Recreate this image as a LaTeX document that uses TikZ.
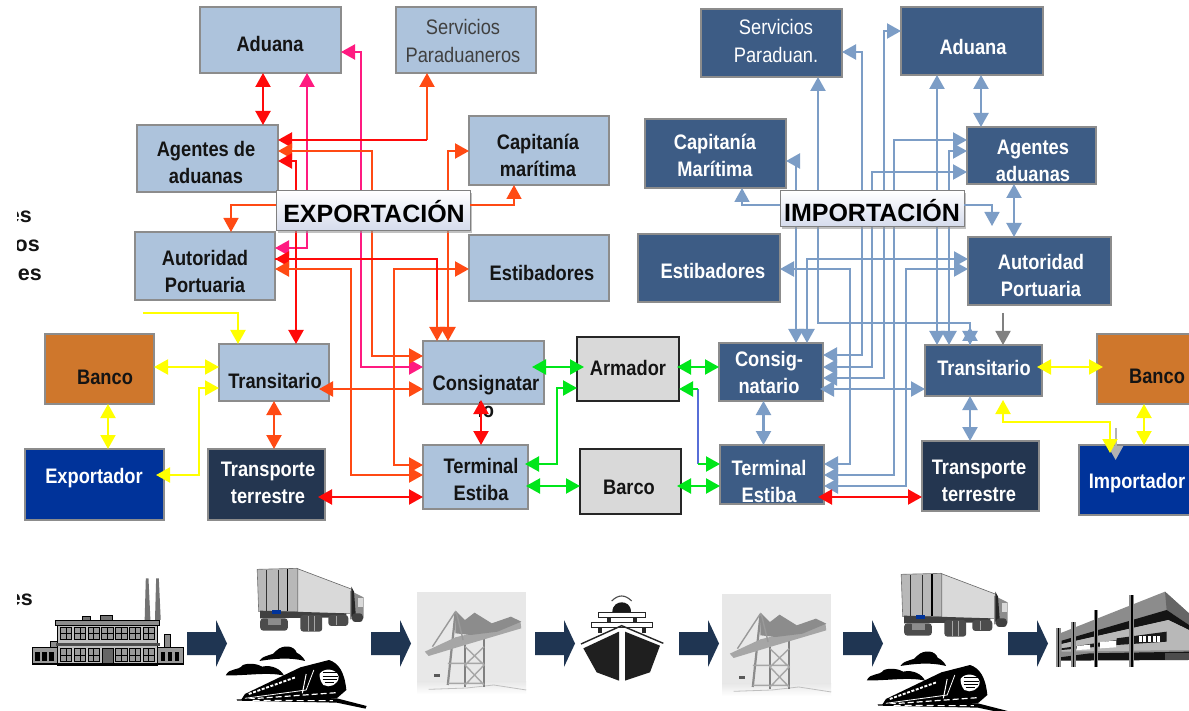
\documentclass[tikz,border=0pt]{standalone}
\usepackage{fontspec}
\setmainfont{Liberation Sans}[FakeStretch=0.87]
\newfontfamily\plainsans{Liberation Sans}
\usetikzlibrary{arrows.meta,fit,shadows,calc}
\definecolor{lblue}{HTML}{ADC3DC}
\definecolor{dblue}{HTML}{3D5C85}
\definecolor{bank}{HTML}{CF772C}
\definecolor{royal}{HTML}{00339A}
\definecolor{navy}{HTML}{243650}
\definecolor{arrowblue}{HTML}{7C9DC6}
\definecolor{redb}{HTML}{FF0A0A}
\definecolor{orng}{HTML}{FF4A14}
\definecolor{pink}{HTML}{FF1A80}
\definecolor{greenb}{HTML}{00E61A}
\definecolor{yell}{HTML}{FFFF00}
\definecolor{ink}{HTML}{141414}
\definecolor{blockb}{HTML}{1F3552}
\definecolor{lav}{HTML}{D5DBEC}
\newcommand\mybox[6]{\node[#1,fit={(#3,#4) (#5,#6)}] (#2) {};}
\tikzset{
  basebox/.style={rectangle,inner sep=0pt,outer sep=0pt,line width=1.1pt,draw=black!45},
  lbox/.style={basebox,fill=lblue},
  dbox/.style={basebox,fill=dblue},
  bankbox/.style={basebox,fill=bank},
  royalbox/.style={basebox,fill=royal},
  navybox/.style={basebox,fill=navy},
  greybox/.style={basebox,fill=black!15,draw=black!85},
  tb/.style={align=center,inner sep=0pt,text=ink,font=\bfseries\fontsize{21}{27}\selectfont},
  tw/.style={tb,text=white},
  tr/.style={align=center,inner sep=0pt,text=black!75,font=\fontsize{21}{28}\selectfont},
  trw/.style={tr,text=white},
  banner/.style={rectangle,inner sep=0pt,outer sep=0pt,line width=1pt,draw=black!50,top color=white,bottom color=lav,
    drop shadow={shadow xshift=1.5pt,shadow yshift=-2.5pt,fill=black!40,opacity=.6}},
  bannertext/.style={inner sep=0pt,text=black,font=\plainsans\bfseries\fontsize{25}{28}\selectfont},
  frag/.style={inner sep=0pt,text=ink,anchor=east,font=\plainsans\bfseries\fontsize{21.5}{24}\selectfont},
  rd/.style={draw=redb,line width=2.1pt},
  og/.style={draw=orng,line width=2.1pt},
  pk/.style={draw=pink,line width=2.1pt},
  gn/.style={draw=greenb,line width=2.1pt},
  yl/.style={draw=yell,line width=2pt},
  bl/.style={draw=arrowblue,line width=2.2pt},
  gy/.style={draw=black!50,line width=1.8pt},
  gyl/.style={draw=black!30,line width=1.8pt},
  blockarrow/.style={fill=blockb,draw=none},
  >={Triangle[length=14pt,width=15pt]}
}
\newcommand\blockarr[1]{\fill[blockarrow,shift={(#1,0)}] (0,632)--(29,632)--(29,620)--(40,643.5)--(29,667)--(29,655)--(0,655)--cycle;}
\newcommand\truckicon[2]{\begin{scope}[shift={(#1,#2)},x=0.3827pt,y=-0.3333pt]
  \fill[black!15,draw=black!60,line width=.6pt] (775,55)--(920,118)--(920,190)--(775,190)--cycle;
  \fill[black!28,draw=black!55,line width=.6pt] (672,58)--(778,55)--(778,185)--(676,185)--cycle;
  \draw[black!80,line width=1pt] (697,60)--(697,182) (728,60)--(728,182);
  \draw[black,line width=1.4pt] (752,58)--(752,182);
  \fill[black!75] (680,182)--(905,190)--(905,202)--(680,205)--cycle;
  \fill[black!45] (915,122)--(950,142)--(950,205)--(915,208)--cycle;
  \fill[black!85] (918,110)--(925,125)--(930,200)--(918,200)--cycle;
  \fill[black!15] (935,145) rectangle (948,170);
  \fill[royal] (712,180) rectangle (735,192);
  \fill[black!70,rounded corners=3pt] (680,205) rectangle (752,242);
  \fill[black!45] (700,208) rectangle (735,226);
  \fill[black!70,rounded corners=3pt] (785,195) rectangle (842,245);
  \fill[black!70,rounded corners=3pt] (858,195) rectangle (910,228);
  \fill[black!75,rounded corners=3pt] (920,190) rectangle (948,216);
  \draw[black!35,line width=1pt] (805,197)--(805,243) (822,197)--(822,243) (880,197)--(880,226);
\end{scope}}
\newcommand\trainicon[2]{\begin{scope}[shift={(#1,#2)},x=0.3827pt,y=-0.3333pt]
  \fill[black] (678,333) .. controls (690,310) and (715,320) .. (722,302) .. controls (740,282) and (770,287) .. (775,308) .. controls (785,313) and (795,325) .. (797,333) .. controls (760,322) and (720,325) .. cycle;
  \fill[black] (590,376) .. controls (600,352) and (620,365) .. (635,345) .. controls (650,338) and (675,342) .. (685,350) .. controls (710,343) and (735,358) .. (742,377) .. controls (700,365) and (640,378) .. cycle;
  \fill[black] (640,432) -- (785,352) -- (860,330) .. controls (885,340) and (900,365) .. (905,420) -- (880,445) -- (800,452) -- (630,450) -- cycle;
  \fill[white] (835,372) .. controls (845,352) and (880,355) .. (885,380) .. controls (885,405) and (860,415) .. (845,405) .. controls (838,395) and (835,385) .. cycle;
  \draw[black,line width=.9pt] (845,368)--(880,368) (843,378)--(883,378) (843,388)--(880,388) (848,398)--(872,398);
  \draw[white,line width=1.9pt,dash pattern=on 3pt off 1.6pt] (650,432)--(772,382);
  \draw[white,line width=.8pt] (640,445)--(800,420)--(820,360);
  \draw[white,line width=1pt] (800,372)--(790,430);
  \draw[white,line width=1.2pt,dash pattern=on 6pt off 3pt] (650,447)--(880,428);
  \fill[black] (618,448) -- (880,445) -- (958,468) -- (955,476) -- (880,458) -- (620,452) -- cycle;
  \draw[white,line width=1pt,dash pattern=on 7pt off 4pt] (660,451)--(870,452);
\end{scope}}
\newcommand\craneicon[2]{\begin{scope}[shift={(#1,#2)},x=0.3827pt,y=-0.3333pt]
  \fill[black!9] (1090,125) rectangle (1375,395);
  \fill[top color=black!9,bottom color=white,draw=none] (1090,395) rectangle (1375,432);
  \draw[black!25,line width=.8pt] (1120,418)--(1220,414)--(1290,405)--(1375,420);
  \draw[black!50,line width=2.6pt] (1215,270)--(1215,412) (1265,265)--(1265,410);
  \draw[black!45,line width=2.2pt] (1190,190)--(1170,405);
  \draw[black!35,line width=1.4pt] (1170,340)--(1265,340) (1215,290)--(1265,345)--(1215,405) (1265,290)--(1215,345)--(1265,405) (1170,400)--(1265,400);
  \fill[black!35] (1110,305) -- (1190,262) -- (1360,215) -- (1362,235) -- (1215,285) -- (1120,318) -- cycle;
  \fill[black!45] (1190,182) -- (1215,210) -- (1240,188) -- (1285,220) -- (1335,200) -- (1362,215) -- (1300,245) -- (1230,255) -- (1190,250) -- cycle;
  \draw[black!40,line width=1.4pt] (1190,185)--(1130,290) (1192,185)--(1210,270);
  \fill[black!65] (1135,372) rectangle (1150,380);
\end{scope}}
\begin{document}
\begin{tikzpicture}[x=1pt,y=-1pt]
\clip (0,0) rectangle (1189,711);
\fill[white] (0,0) rectangle (1189,711);

% clipped side texts
\node[frag] (fa) at (32,217) {es};
\node[frag] (fb) at (40,246) {os};
\node[frag] (fc) at (42,275) {es};
\node[frag] (fd) at (33,600) {es};
\fill[white] (0,195) rectangle (17,290);
\fill[white] (0,585) rectangle (17,615);

% export boxes
\mybox{lbox}{adL}{200}{7}{341}{73}
\mybox{lbox}{svL}{396}{7}{536}{73}
\mybox{lbox}{agL}{137}{125}{278}{192}
\mybox{lbox}{caL}{469}{116}{609}{185}
\mybox{lbox}{auL}{135}{232}{275}{300}
\mybox{lbox}{esL}{469}{235}{609}{301}
\mybox{bankbox}{baL}{45}{334}{154}{404}
\mybox{lbox}{trL}{219}{344}{329}{401}
\mybox{lbox}{coL}{423}{341}{544}{404}
\mybox{royalbox}{exL}{25}{449}{164}{520}
\mybox{navybox}{ttL}{208}{449}{325}{520}
\mybox{lbox}{teL}{423}{445}{528}{509}
\mybox{greybox}{arM}{577}{337}{679}{401}
\mybox{greybox}{baM}{580}{449}{681}{514}
% import boxes
\mybox{dbox}{svR}{701}{9}{842}{77}
\mybox{dbox}{adR}{901}{7}{1043}{75}
\mybox{dbox}{caR}{645}{119}{786}{188}
\mybox{dbox}{agR}{967}{127}{1096}{184}
\mybox{dbox}{esR}{638}{234}{780}{302}
\mybox{dbox}{auR}{968}{237}{1111}{305}
\mybox{dbox}{coR}{719}{343}{823}{401}
\mybox{dbox}{teR}{720}{445}{824}{504}
\mybox{dbox}{trR}{925}{345}{1042}{396}
\mybox{navybox}{ttR}{922}{441}{1039}{511}
\mybox{bankbox}{baR}{1097}{334}{1195}{404}
\mybox{royalbox}{imR}{1079}{445}{1195}{515}

% texts
\node[tb] (tadL) at (270,44) {Aduana};
\node[tr] (tsvL) at (463,41) {Servicios\\Paraduaneros};
\node[tb] (tagL) at (206,162) {Agentes de\\aduanas};
\node[tb] (tcaL) at (538,155) {Capitanía\\marítima};
\node[tb] (tauL) at (205,271) {Autoridad\\Portuaria};
\node[tb] (tesL) at (542,273) {Estibadores};
\node[tb] (tbaL) at (105,377) {Banco};
\node[tb] (ttrL) at (275,381) {Transitario};
\node[tb] (tcoL) at (486,396) {Consignatar\\io};
\node[tw] (texL) at (94,478) {Exportador};
\node[tw] (tttL) at (268,483) {Transporte\\terrestre};
\node[tb] (tteL) at (481,479) {Terminal\\Estiba};
\node[tb] (tarM) at (628,368) {Armador};
\node[tb] (tbaM) at (629,487) {Barco};
\node[trw] (tsvR) at (776,41) {Servicios\\Paraduan.};
\node[tw] (tadR) at (973,47) {Aduana};
\node[tw] (tcaR) at (715,155) {Capitanía\\Marítima};
\node[tw] (tagR) at (1033,161) {Agentes\\aduanas};
\node[tw] (tesR) at (713,271) {Estibadores};
\node[tw] (tauR) at (1041,275) {Autoridad\\Portuaria};
\node[tw] (tcoR) at (769,372) {Consig-\\natario};
\node[tw] (tteR) at (769,481) {Terminal\\Estiba};
\node[tw] (ttrR) at (984,368) {Transitario};
\node[tb] (tbaR) at (1157,376) {Banco};
\node[tw] (tttR) at (979,481) {Transporte\\terrestre};
\node[tw] (timR) at (1137,483) {Importador};

% yellow free-ended lines
\coordinate (ystart) at (143,313);
\draw[yl,->] (ystart) -| (trL.north -| 238,0);
\draw[yl,<->] (baL.east |- 0,367) -- (trL.west |- 0,367);
\draw[yl,<->] (baL.south -| 108,0) -- (exL.north -| 108,0);
\draw[yl,<->] (exL.east |- 0,475) ++(-8,0) -| (199,388) -- (trL.west |- 0,388);
\coordinate (gtop) at (1115.6,428);
\draw[gyl,->] (gtop) -- (1115.6,460);
\draw[yl,<->] (1003,400) -- (1003,422) -- (1110,422) -- (1110,453);
\draw[yl,<->] (baR.south -| 1144,0) -- (imR.north -| 1144,0);

% left red / orange / pink network
\draw[rd,<->] (adL.south -| 263,0) -- (agL.north -| 263,0);
\draw[pk,<->] (auL.east |- 0,248) -| (adL.south -| 307,0);
\draw[pk,<->] (adL.east |- 0,52) -| (361,367) -- (coL.west |- 0,367);
\draw[og,->] (427,140) -- (svL.south -| 427,0);
\draw[rd,<-] (agL.east |- 0,140) -- (427,140);
\draw[og,<->] (agL.east |- 0,151) -| (372,356) -- (coL.west |- 0,356);
\draw[rd,<->] (agL.east |- 0,161) -| (trL.north -| 296,0);
\draw[og,<->] (caL.west |- 0,151) -| (coL.north -| 448,0);
\draw[og,<->] (esL.west |- 0,269) -| (394,465) -- (teL.west |- 0,465);
\draw[rd] (auL.east |- 0,259) -| (437,320);
\draw[rd,<-] (auL.east |- 0,259) -- (300,259);
\draw[og,->] (437,300) -- (coL.north -| 437,0);
\draw[og,<->] (auL.east |- 0,269) -| (351,475) -- (teL.west |- 0,475);
\draw[og,<->] (trL.east |- 0,389) ++(-10,0) -- (coL.west |- 0,389);
\draw[og,<->] (trL.south -| 274,0) -- (ttL.north -| 274,0);
\draw[rd,<->] (ttL.east |- 0,497) ++(-7,0) -- (teL.west |- 0,497);
\draw[rd,<->] (coL.south -| 481,0) ++(0,-4) -- (teL.north -| 481,0);

% green
\draw[gn,<->] (coL.east |- 0,367) ++(-12,0) -- ($(arM.west |- 0,367)+(7,0)$);
\draw[gn,<->] (teL.east |- 0,464) ++(-3,0) -| (557,388) -- (arM.west |- 0,388);
\draw[gn,<->] (teL.east |- 0,486) ++(-2,0) -- (baM.west |- 0,486);
\draw[gn,<->] (arM.east |- 0,367) ++(-2,0) -- (coR.west |- 0,367);
\draw[gn,<->] (baM.east |- 0,486) ++(-4,0) -- (teR.west |- 0,486);
\draw[draw=arrowblue!70!blue,line width=1.3pt] (698,389) -- (698,464);
\draw[gn,->] (698,389) -- (arM.east |- 0,389);
\draw[gn,->] (698,464) -- (teR.west |- 0,464);

% blue network
\draw[bl,<->] (coR.south -| 763.5,0) -- (teR.north -| 763.5,0);
\draw[bl,<->] (coR.east |- 0,389) ++(-3,0) -- (trR.west |- 0,389);
\draw[bl,<->] (trR.south -| 970,0) -- (ttR.north -| 970,0);
\draw[bl,<->] (svR.south -| 818,0) -- (818,323) -- (970,323) -- (trR.north -| 970,0);
\draw[bl,->] (970,345) -- (970,327);
\draw[bl,<->] (svR.east |- 0,52) -| (862,355) -- (coR.east |- 0,355);
\draw[bl,<->] (adR.west |- 0,31) -| (884,378) -- (coR.east |- 0,378);
\draw[bl,<->] (adR.south -| 937,0) -- (trR.north -| 937,0);
\draw[bl,<->] (adR.south -| 981,0) -- (agR.north -| 981,0);
\draw[bl,<->] (agR.west |- 0,140) -| (894,475) -- (teR.east |- 0,475);
\draw[bl,<->] (agR.west |- 0,151) -| (trR.north -| 949,0);
\draw[bl,<->] (agR.west |- 0,172) -| (872,367) -- (coR.east |- 0,367);
\draw[bl,<->] (agR.south -| 1014,0) -- (auR.north -| 1014,0);
\draw[bl,<->] (auR.west |- 0,259) -| (coR.north -| 807,0);
\draw[bl,<->] (auR.west |- 0,269) -| (906,486) -- (teR.east |- 0,486);
\draw[bl,<->] (esR.east |- 0,269) -| (850,464) -- (teR.east |- 0,464);
\draw[bl,<->] (caR.east |- 0,161) -| (coR.north -| 796,0);
\draw[rd,<->] (teR.east |- 0,497) ++(-6,0) -- (ttR.west |- 0,497);
\coordinate (gtwo) at (1003,313);
\draw[gy,->] (gtwo) -- (trR.north -| 1003,0);
\draw[yl,<->] (trR.east |- 0,367) ++(-5,0) -- ($(baR.west |- 0,367)+(6,0)$);

% banner arrows and banners
\mybox{banner}{exB}{276}{191}{470}{231}
\node[bannertext] (texB) at (374,212) {EXPORTACIÓN};
\mybox{banner}{imB}{780}{191}{964}{227}
\node[bannertext] (timB) at (872,211) {IMPORTACIÓN};
\draw[og,line width=1.6pt,->] (exB.west |- 0,205) -| (auL.north -| 231,0);
\draw[og,line width=1.6pt,->] (exB.east |- 0,205) -| (caL.south -| 514,0);
\draw[bl,line width=1.6pt,->] (imB.west |- 0,205) -| (caR.south -| 742,0);
\draw[bl,line width=1.6pt,->] (imB.east |- 0,205) -| (992,226);

% bottom strip
\blockarr{187}\blockarr{371}\blockarr{535}\blockarr{679}\blockarr{843}\blockarr{1008}

% factory
\begin{scope}[shift={(0,550)},x=0.3827pt,y=-0.3333pt]
  \fill[black!55] (378,210) -- (381,85) -- (388,85) -- (393,210) -- cycle;
  \fill[black!55] (405,210) -- (408,85) -- (415,85) -- (420,210) -- cycle;
  \fill[black!55,draw=black] (215,198) rectangle (235,212);
  \fill[black!55,draw=black] (262,195) rectangle (292,212);
  \fill[black!25,draw=black,line width=.9pt] (150,225) rectangle (412,345);
  \fill[black!45,draw=black,line width=.9pt] (146,212) rectangle (417,225);
  \fill[black!40,draw=black,line width=.9pt] (85,292) rectangle (150,342);
  \fill[black!40,draw=black,line width=.9pt] (412,292) rectangle (480,342);
  \fill[black!45,draw=black] (130,275) rectangle (150,292);
  \fill[black!45,draw=black] (430,252) rectangle (446,292);
  \foreach \i in {0,...,6} {
    \draw[black,fill=black!40,line width=1pt] ({158+\i*36},233) rectangle ({188+\i*36},270);
    \draw[black,line width=.8pt] ({173+\i*36},233)--({173+\i*36},270) ({158+\i*36},251)--({188+\i*36},251);
  }
  \foreach \i in {0,1,2,4,5,6} {
    \draw[black,fill=black!40,line width=1pt] ({158+\i*36},296) rectangle ({188+\i*36},334);
    \draw[black,line width=.8pt] ({173+\i*36},296)--({173+\i*36},334) ({158+\i*36},315)--({188+\i*36},315);
  }
  \fill[black!60,draw=black] (268,295) rectangle (295,345);
  \fill[black!70] (146,280) rectangle (417,288);
  \foreach \i in {0,1,2} {
    \fill[black] ({92+\i*18},305) rectangle ({104+\i*18},332);
    \fill[black] ({420+\i*18},305) rectangle ({432+\i*18},332);
  }
  \fill[black] (85,340) rectangle (480,345);
\end{scope}

\truckicon{0}{550}
\truckicon{644}{555}
\trainicon{0}{550}
\trainicon{641}{555}
\craneicon{0}{550}
\craneicon{305}{552}

% ship
\begin{scope}[shift={(575,585)},x=0.3333pt,y=-0.3333pt]
  \draw[black!70,line width=1.1pt] (110,48) .. controls (130,28) and (150,28) .. (170,48);
  \fill[black!90] (112,82) .. controls (112,58) and (130,52) .. (140,52) .. controls (152,52) and (168,58) .. (168,82) -- cycle;
  \draw[black!85,line width=1.4pt,fill=white] (70,82) rectangle (212,97);
  \draw[black!85,line width=1.4pt,fill=white] (50,113) rectangle (232,128);
  \fill[black!85] (95,97) rectangle (107,113);
  \fill[black!85] (175,97) rectangle (187,113);
  \fill[black!85] (70,128) rectangle (82,145);
  \fill[black!85] (200,128) rectangle (212,145);
  \draw[black!85,line width=1.4pt] (18,177) -- (140,122) -- (265,175);
  \fill[black!88] (25,190) -- (132,140) -- (132,287) -- (65,262) -- cycle;
  \fill[black!88] (150,140) -- (255,182) -- (225,262) -- (150,287) -- cycle;
\end{scope}

% warehouse
\begin{scope}[shift={(1040,570)},x=0.3333pt,y=-0.3333pt]
  \fill[black!45] (60,190) -- (375,65) -- (447,130) -- (447,270) -- (60,270) -- cycle;
  \fill[black!60] (375,65) -- (447,130) -- (447,165) -- (380,120) -- cycle;
  \fill[black!92] (65,212) -- (380,120) -- (447,165) -- (447,180) -- (385,150) -- (65,222) -- cycle;
  \fill[black!28] (65,222) -- (385,150) -- (447,180) -- (447,240) -- (65,245) -- cycle;
  \fill[black!90] (65,235) -- (230,210) -- (230,225) -- (65,240) -- cycle;
  \fill[black!90] (230,205) -- (380,185) -- (380,215) -- (230,225) -- cycle;
  \fill[white] (110,228) -- (150,224) -- (150,238) -- (110,240) -- cycle;
  \fill[white] (180,216) -- (228,212) -- (228,232) -- (180,235) -- cycle;
  \foreach \i in {0,...,4} \fill[white] ({296+\i*14},198) rectangle ({305+\i*14},217);
  \fill[black!92] (60,262) -- (150,250) -- (447,245) -- (447,270) -- (60,272) -- cycle;
  \fill[black!70] (375,250) rectangle (447,270);
  \foreach \xx/\yy in {55/175,100/155,168/120,275/75} {
    \fill[black!45] ({\xx-7},\yy) rectangle ({\xx+7},290);
    \fill[black] ({\xx-2},\yy) rectangle ({\xx+3},290);
  }
\end{scope}
\end{tikzpicture}
\end{document}
